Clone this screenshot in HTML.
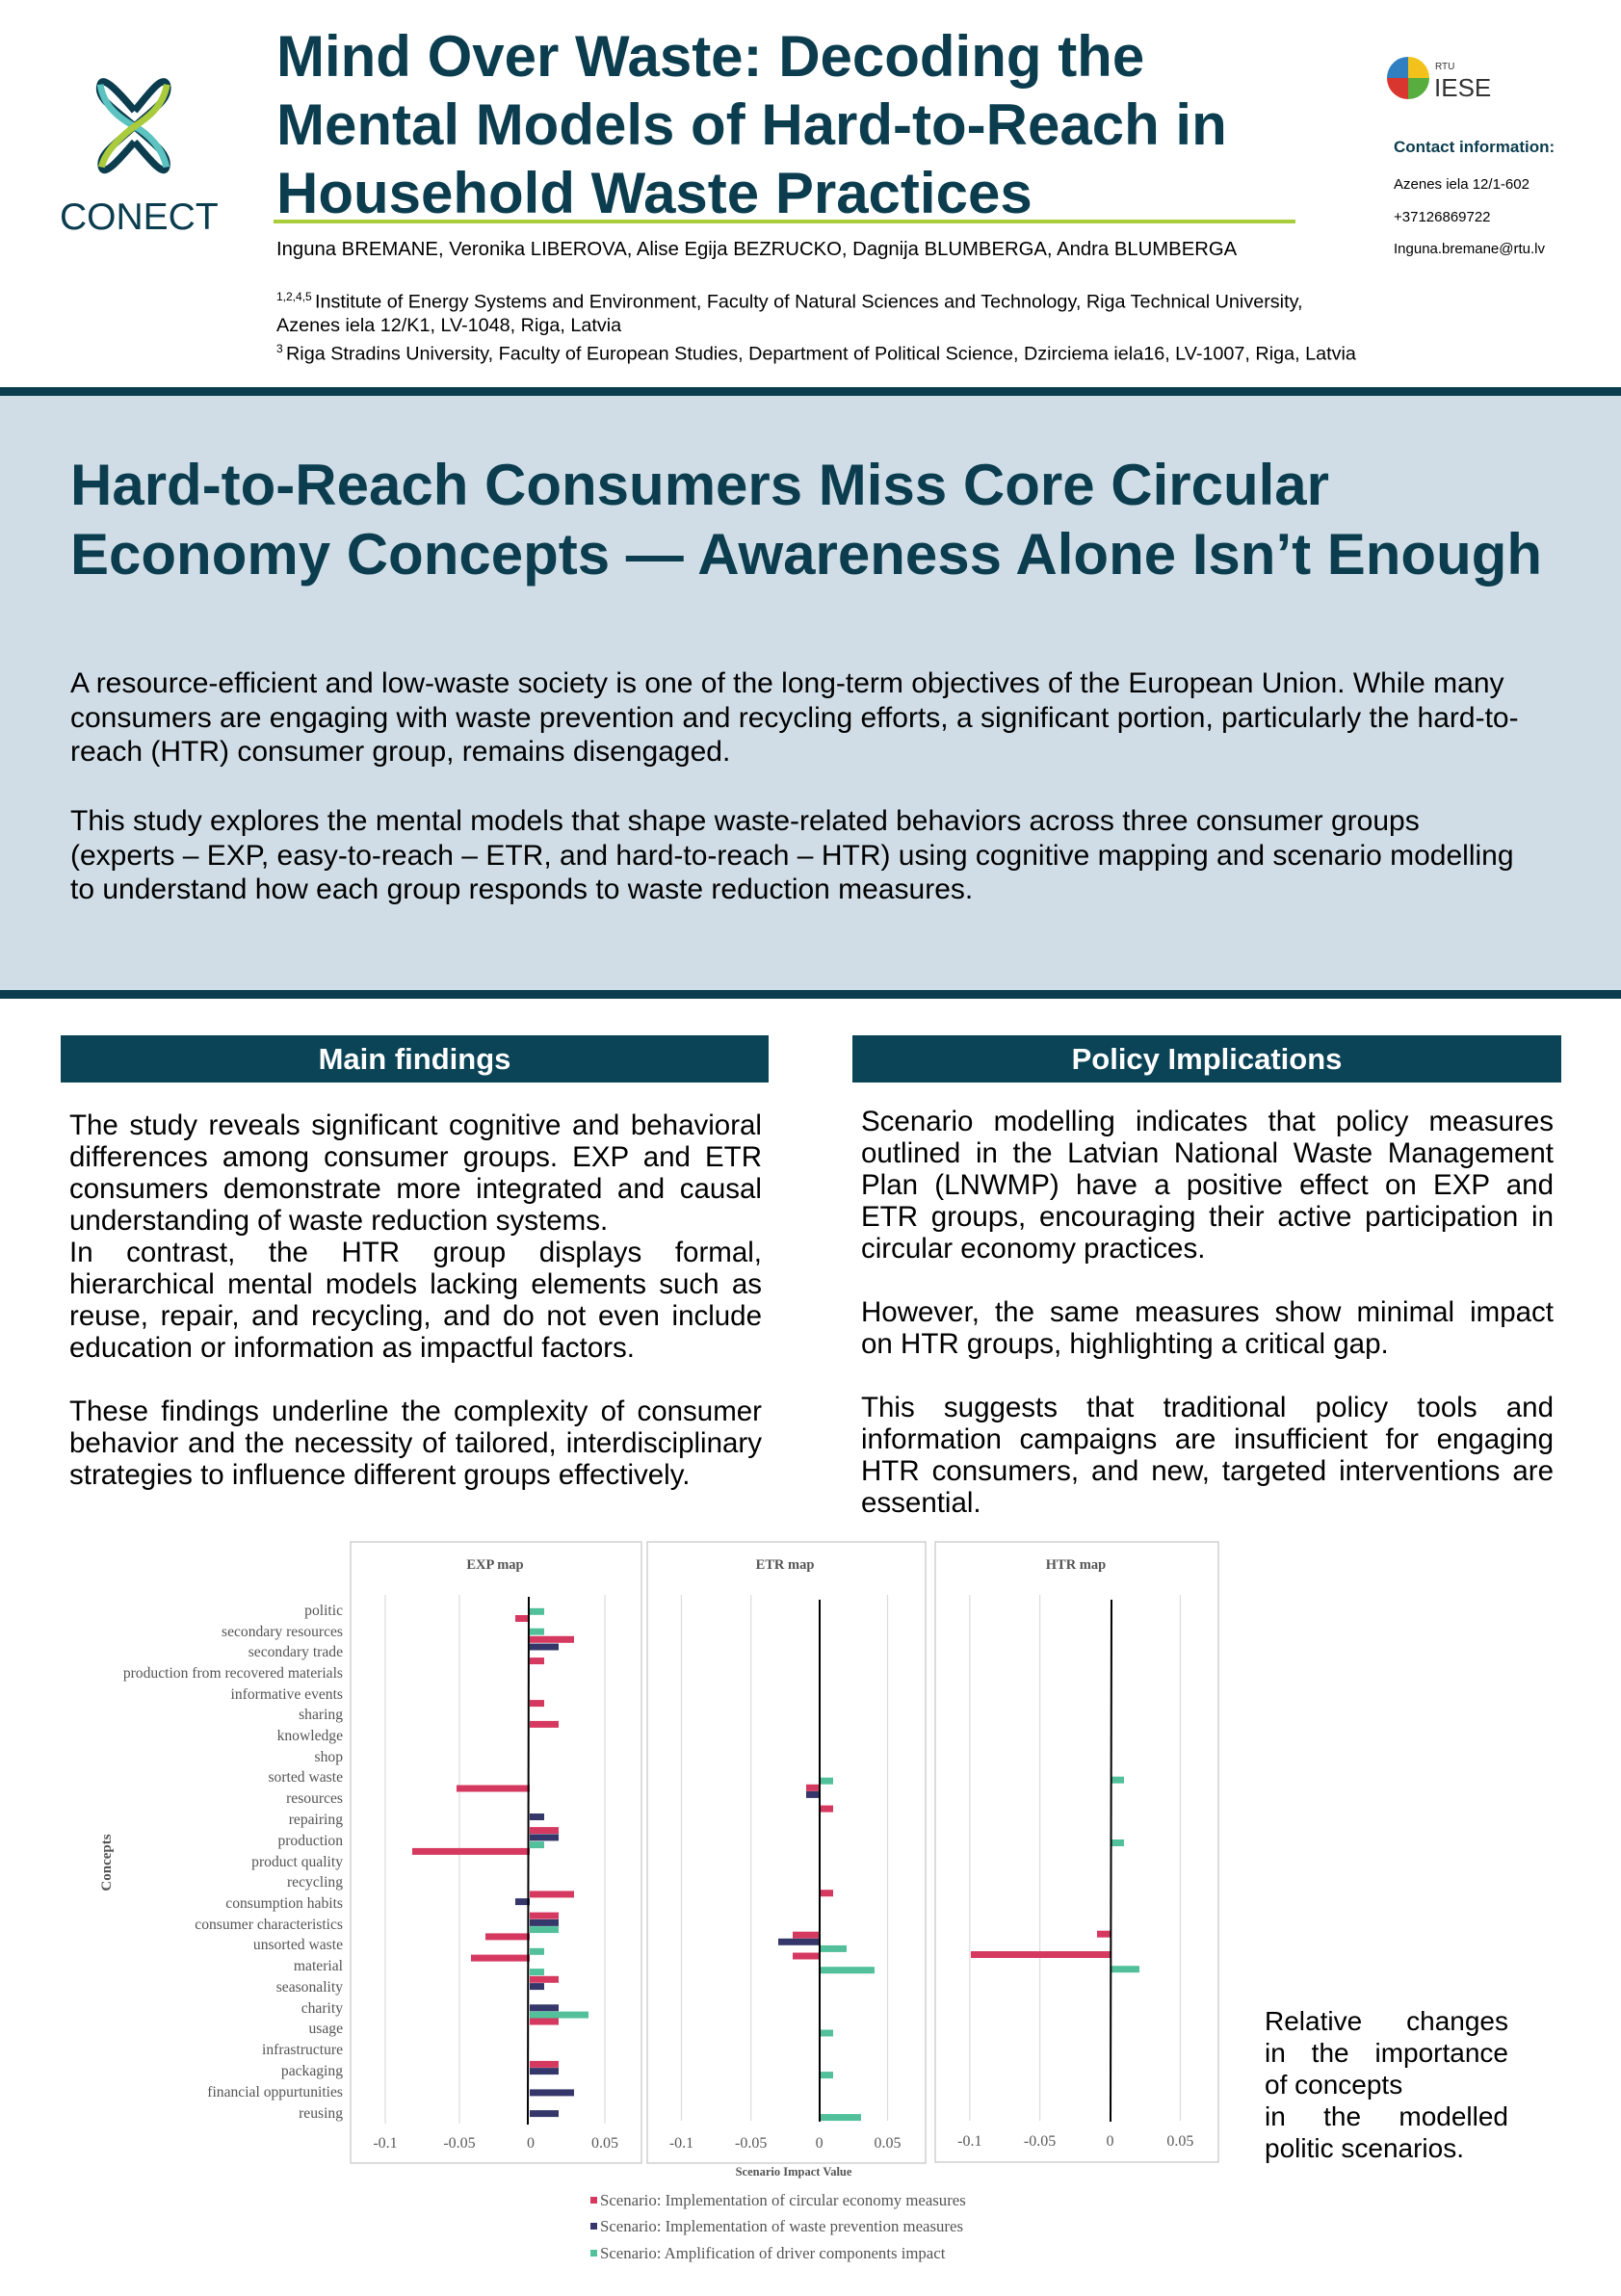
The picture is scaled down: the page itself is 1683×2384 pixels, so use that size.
<!DOCTYPE html>
<html><head><meta charset="utf-8">
<style>
*{margin:0;padding:0;box-sizing:border-box}
body{width:1683px;height:2384px;position:relative;background:#fff;font-family:"Liberation Sans",Arial,sans-serif;overflow:hidden;color:#000}
.a{position:absolute;white-space:nowrap}
.t{font-weight:bold;color:#0b3d4f;font-size:60px;left:287px}
.ln{position:absolute;white-space:nowrap;font-size:29.5px;line-height:33px;height:33px}
.j{text-align:justify;text-align-last:justify}
.box{position:absolute;background:#0b4457;color:#fff;font-weight:bold;font-size:31px;text-align:center;line-height:49px;height:49px}
</style></head><body>

<!-- CONECT logo -->
<svg class="a" style="left:76px;top:74px" width="128" height="112" viewBox="0 0 185 180">
  <path d="M92 66 C70 40 40 5 35 22 C28 45 55 60 92 92 C130 125 150 140 145 160 C140 178 112 140 92 118" fill="none" stroke="#0b3d4f" stroke-width="12"/>
  <path d="M92 66 C114 40 138 5 146 22 C152 45 128 60 92 92 C55 125 32 140 37 160 C42 178 72 140 92 118" fill="none" stroke="#0b3d4f" stroke-width="12"/>
  <path d="M35 22 C40 60 70 80 92 92 C115 104 140 130 145 160" fill="none" stroke="#5cc3c0" stroke-width="11"/>
  <path d="M146 22 C140 60 110 80 92 92 C70 108 42 135 37 160" fill="none" stroke="#a9cb3c" stroke-width="11"/>
</svg>
<div class="a" style="left:62px;top:204px;font-size:39px;color:#0b3d4f;letter-spacing:0px">CONECT</div>

<!-- Title -->
<div class="a t" style="top:23px;line-height:71px">Mind Over Waste: Decoding the<br>Mental Models of Hard-to-Reach in<br>Household Waste Practices</div>
<div class="a" style="left:284px;top:228px;width:1061px;height:4px;background:#a8cc3a"></div>
<div class="a" style="left:287px;top:248px;font-size:20.3px">Inguna BREMANE, Veronika LIBEROVA, Alise Egija BEZRUCKO, Dagnija BLUMBERGA, Andra BLUMBERGA</div>
<div class="a" style="left:287px;top:296px;font-size:19.8px;line-height:24px"><sup style="font-size:12px">1,2,4,5 </sup>Institute of Energy Systems and Environment, Faculty of Natural Sciences and Technology, Riga Technical University,<br>Azenes iela 12/K1, LV-1048, Riga, Latvia<br><sup style="font-size:12px">3 </sup>Riga Stradins University, Faculty of European Studies, Department of Political Science, Dzirciema iela16, LV-1007, Riga, Latvia</div>

<!-- RTU logo -->
<svg class="a" style="left:1440px;top:58px" width="110" height="46">
  <path d="M22 23 L22 1 A22 22 0 0 0 0 23 Z" fill="#2f7fc1"/>
  <path d="M22 23 L44 23 A22 22 0 0 0 22 1 Z" fill="#f2c21b"/>
  <path d="M22 23 L0 23 A22 22 0 0 0 22 45 Z" fill="#d8362f"/>
  <path d="M22 23 L22 45 A22 22 0 0 0 44 23 Z" fill="#58ad3f"/>
  <text x="50" y="14" font-size="10" fill="#333" font-family="Liberation Sans">RTU</text>
  <text x="49" y="42" font-size="26" fill="#333" font-family="Liberation Sans">IESE</text>
</svg>
<div class="a" style="left:1447px;top:143px;font-size:17px;font-weight:bold;color:#0b3d4f">Contact information:</div>
<div class="a" style="left:1447px;top:175px;font-size:15px;line-height:33.5px">Azenes iela 12/1-602<br>+37126869722<br>Inguna.bremane@rtu.lv</div>

<!-- Blue panel -->
<div class="a" style="left:0;top:402px;width:1683px;height:9px;background:#0b3d4f"></div>
<div class="a" style="left:0;top:411px;width:1683px;height:617px;background:#d0dde6"></div>
<div class="a" style="left:0;top:1028px;width:1683px;height:9px;background:#0b3d4f"></div>
<div class="a" style="left:73px;top:468px;font-size:60px;font-weight:bold;color:#0b3d4f;line-height:72px">Hard-to-Reach Consumers Miss Core Circular<br>Economy Concepts — Awareness Alone Isn’t Enough</div>
<div class="a" style="left:73px;top:692px;font-size:30px;line-height:35.5px">A resource-efficient and low-waste society is one of the long-term objectives of the European Union. While many<br>consumers are engaging with waste prevention and recycling efforts, a significant portion, particularly the hard-to-<br>reach (HTR) consumer group, remains disengaged.</div>
<div class="a" style="left:73px;top:835px;font-size:30px;line-height:35.5px">This study explores the mental models that shape waste-related behaviors across three consumer groups<br>(experts – EXP, easy-to-reach – ETR, and hard-to-reach – HTR) using cognitive mapping and scenario modelling<br>to understand how each group responds to waste reduction measures.</div>

<!-- Section boxes -->
<div class="box" style="left:63px;top:1075px;width:735px">Main findings</div>
<div class="box" style="left:885px;top:1075px;width:736px">Policy Implications</div>

<div style="position:absolute;left:72px;top:1152px;width:719px">
<div class="ln j" style="position:relative">The study reveals significant cognitive and behavioral</div>
<div class="ln j" style="position:relative">differences among consumer groups. EXP and ETR</div>
<div class="ln j" style="position:relative">consumers demonstrate more integrated and causal</div>
<div class="ln" style="position:relative">understanding of waste reduction systems.</div>
<div class="ln j" style="position:relative">In contrast, the HTR group displays formal,</div>
<div class="ln j" style="position:relative">hierarchical mental models lacking elements such as</div>
<div class="ln j" style="position:relative">reuse, repair, and recycling, and do not even include</div>
<div class="ln" style="position:relative">education or information as impactful factors.</div>
<div class="ln" style="position:relative"></div>
<div class="ln j" style="position:relative">These findings underline the complexity of consumer</div>
<div class="ln j" style="position:relative">behavior and the necessity of tailored, interdisciplinary</div>
<div class="ln" style="position:relative">strategies to influence different groups effectively.</div>
</div>

<div style="position:absolute;left:894px;top:1148px;width:719px">
<div class="ln j" style="position:relative">Scenario modelling indicates that policy measures</div>
<div class="ln j" style="position:relative">outlined in the Latvian National Waste Management</div>
<div class="ln j" style="position:relative">Plan (LNWMP) have a positive effect on EXP and</div>
<div class="ln j" style="position:relative">ETR groups, encouraging their active participation in</div>
<div class="ln" style="position:relative">circular economy practices.</div>
<div class="ln" style="position:relative"></div>
<div class="ln j" style="position:relative">However, the same measures show minimal impact</div>
<div class="ln" style="position:relative">on HTR groups, highlighting a critical gap.</div>
<div class="ln" style="position:relative"></div>
<div class="ln j" style="position:relative">This suggests that traditional policy tools and</div>
<div class="ln j" style="position:relative">information campaigns are insufficient for engaging</div>
<div class="ln j" style="position:relative">HTR consumers, and new, targeted interventions are</div>
<div class="ln" style="position:relative">essential.</div>
</div>

<div style="position:absolute;left:1313px;top:2082px;width:253px;font-size:28px;line-height:33px">
<div class="j" style="white-space:nowrap">Relative changes</div>
<div class="j" style="white-space:nowrap">in the importance</div>
<div style="white-space:nowrap">of concepts</div>
<div class="j" style="white-space:nowrap">in the modelled</div>
<div style="white-space:nowrap">politic scenarios.</div>
</div>

<!-- Chart -->
<svg class="a" style="left:0;top:0" width="1683" height="2384" font-family="Liberation Serif, serif">
<g fill="none" stroke="#d0d0d0" stroke-width="1.5">
<rect x="364" y="1601" width="302" height="645"/>
<rect x="672" y="1601" width="289" height="645"/>
<rect x="971" y="1601" width="294" height="644"/>
</g>
<g stroke="#dcdcdc" stroke-width="1.2">
<line x1="400" y1="1656" x2="400" y2="2205"/><line x1="477" y1="1656" x2="477" y2="2205"/><line x1="628" y1="1656" x2="628" y2="2205"/>
<line x1="707.5" y1="1656" x2="707.5" y2="2202"/><line x1="779.7" y1="1656" x2="779.7" y2="2202"/><line x1="921.5" y1="1656" x2="921.5" y2="2202"/>
<line x1="1006.8" y1="1656" x2="1006.8" y2="2202"/><line x1="1079.6" y1="1656" x2="1079.6" y2="2202"/><line x1="1225.4" y1="1656" x2="1225.4" y2="2202"/>
</g>
<g font-size="14.5" font-weight="bold" fill="#555" text-anchor="middle">
<text x="514" y="1629">EXP map</text><text x="815" y="1629">ETR map</text><text x="1117" y="1629">HTR map</text>
<text x="824" y="2259" font-size="12.5">Scenario Impact Value</text>
<text transform="translate(115,1934) rotate(-90)" font-size="15">Concepts</text>
</g>
<g font-size="16" fill="#595959" text-anchor="middle">
<text x="400" y="2230">-0.1</text><text x="477" y="2230">-0.05</text><text x="551" y="2230">0</text><text x="628" y="2230">0.05</text>
<text x="707.5" y="2230">-0.1</text><text x="779.7" y="2230">-0.05</text><text x="850.6" y="2230">0</text><text x="921.5" y="2230">0.05</text>
<text x="1006.8" y="2228">-0.1</text><text x="1079.6" y="2228">-0.05</text><text x="1152.5" y="2228">0</text><text x="1225.4" y="2228">0.05</text>
</g>
<g font-size="15.6" fill="#555" text-anchor="end">
<text x="356" y="1677">politic</text>
<text x="356" y="1699">secondary resources</text>
<text x="356" y="1720">secondary trade</text>
<text x="356" y="1742">production from recovered materials</text>
<text x="356" y="1764">informative events</text>
<text x="356" y="1785">sharing</text>
<text x="356" y="1807">knowledge</text>
<text x="356" y="1829">shop</text>
<text x="356" y="1850">sorted waste</text>
<text x="356" y="1872">resources</text>
<text x="356" y="1894">repairing</text>
<text x="356" y="1916">production</text>
<text x="356" y="1938">product quality</text>
<text x="356" y="1959">recycling</text>
<text x="356" y="1981">consumption habits</text>
<text x="356" y="2003">consumer characteristics</text>
<text x="356" y="2024">unsorted waste</text>
<text x="356" y="2046">material</text>
<text x="356" y="2068">seasonality</text>
<text x="356" y="2090">charity</text>
<text x="356" y="2111">usage</text>
<text x="356" y="2133">infrastructure</text>
<text x="356" y="2155">packaging</text>
<text x="356" y="2177">financial oppurtunities</text>
<text x="356" y="2199">reusing</text>
</g>
<!-- EXP bars -->
<g>
<rect x="550" y="1669.8" width="15" height="7" fill="#52c09a"/>
<rect x="535" y="1677" width="15" height="7" fill="#d6395f"/>
<rect x="550" y="1690.7" width="15" height="7" fill="#52c09a"/>
<rect x="550" y="1698.8" width="46" height="7" fill="#d6395f"/>
<rect x="550" y="1706.5" width="30" height="7" fill="#35376b"/>
<rect x="550" y="1721.1" width="15" height="7" fill="#d6395f"/>
<rect x="550" y="1765.1" width="15" height="7" fill="#d6395f"/>
<rect x="550" y="1786.9" width="30" height="7" fill="#d6395f"/>
<rect x="474" y="1853.5" width="76" height="7" fill="#d6395f"/>
<rect x="550" y="1883" width="15" height="7" fill="#35376b"/>
<rect x="550" y="1897.1" width="30" height="7" fill="#d6395f"/>
<rect x="550" y="1904.4" width="30" height="7" fill="#35376b"/>
<rect x="550" y="1912.1" width="15" height="7" fill="#52c09a"/>
<rect x="428" y="1918.9" width="122" height="7" fill="#d6395f"/>
<rect x="550" y="1963.4" width="46" height="7" fill="#d6395f"/>
<rect x="535" y="1971.1" width="15" height="7" fill="#35376b"/>
<rect x="550" y="1985.6" width="30" height="7" fill="#d6395f"/>
<rect x="550" y="1992.9" width="30" height="7" fill="#35376b"/>
<rect x="550" y="2000.1" width="30" height="7" fill="#52c09a"/>
<rect x="504" y="2007.4" width="46" height="7" fill="#d6395f"/>
<rect x="550" y="2022.8" width="15" height="7" fill="#52c09a"/>
<rect x="489" y="2029.6" width="61" height="7" fill="#d6395f"/>
<rect x="550" y="2044.1" width="15" height="7" fill="#52c09a"/>
<rect x="550" y="2051.8" width="30" height="7" fill="#d6395f"/>
<rect x="550" y="2059.1" width="15" height="7" fill="#35376b"/>
<rect x="550" y="2081.3" width="30" height="7" fill="#35376b"/>
<rect x="550" y="2088.6" width="61" height="7" fill="#52c09a"/>
<rect x="550" y="2095.5" width="30" height="7" fill="#d6395f"/>
<rect x="550" y="2139.9" width="30" height="7" fill="#d6395f"/>
<rect x="550" y="2147.1" width="30" height="7" fill="#35376b"/>
<rect x="550" y="2169.4" width="46" height="7" fill="#35376b"/>
<rect x="550" y="2191.1" width="30" height="7" fill="#35376b"/>
</g>
<!-- ETR bars -->
<g>
<rect x="851" y="1845.7" width="14" height="7" fill="#52c09a"/>
<rect x="837" y="1852.8" width="14" height="7" fill="#d6395f"/>
<rect x="837" y="1859.9" width="14" height="7" fill="#35376b"/>
<rect x="851" y="1874.6" width="14" height="7" fill="#d6395f"/>
<rect x="851" y="1962.2" width="14" height="7" fill="#d6395f"/>
<rect x="823" y="2005.7" width="28" height="7" fill="#d6395f"/>
<rect x="808" y="2012.8" width="43" height="7" fill="#35376b"/>
<rect x="851" y="2019.9" width="28" height="7" fill="#52c09a"/>
<rect x="823" y="2027.5" width="28" height="7" fill="#d6395f"/>
<rect x="851" y="2042.2" width="57" height="7" fill="#52c09a"/>
<rect x="851" y="2107.5" width="14" height="7" fill="#52c09a"/>
<rect x="851" y="2151.1" width="14" height="7" fill="#52c09a"/>
<rect x="851" y="2195.1" width="43" height="7" fill="#52c09a"/>
</g>
<!-- HTR bars -->
<g>
<rect x="1153" y="1844.7" width="14" height="7" fill="#52c09a"/>
<rect x="1153" y="1910" width="14" height="7" fill="#52c09a"/>
<rect x="1139" y="2004.7" width="14" height="7" fill="#d6395f"/>
<rect x="1008" y="2026" width="145" height="7" fill="#d6395f"/>
<rect x="1153" y="2041.2" width="30" height="7" fill="#52c09a"/>
</g>
<g stroke="#000" stroke-width="2">
<line x1="549" y1="1658" x2="548" y2="2206"/>
<line x1="851" y1="1661" x2="851" y2="2203"/>
<line x1="1154" y1="1661" x2="1153" y2="2203"/>
</g>
<!-- Legend -->
<rect x="613" y="2281" width="7" height="7" fill="#d6395f"/>
<rect x="613" y="2308" width="7" height="7" fill="#35376b"/>
<rect x="613" y="2336" width="7" height="7" fill="#52c09a"/>
<g font-size="16.8" fill="#555">
<text x="623" y="2290">Scenario: Implementation of circular economy measures</text>
<text x="623" y="2317">Scenario: Implementation of waste prevention measures</text>
<text x="623" y="2345">Scenario: Amplification of driver components impact</text>
</g>
</svg>
</body></html>
